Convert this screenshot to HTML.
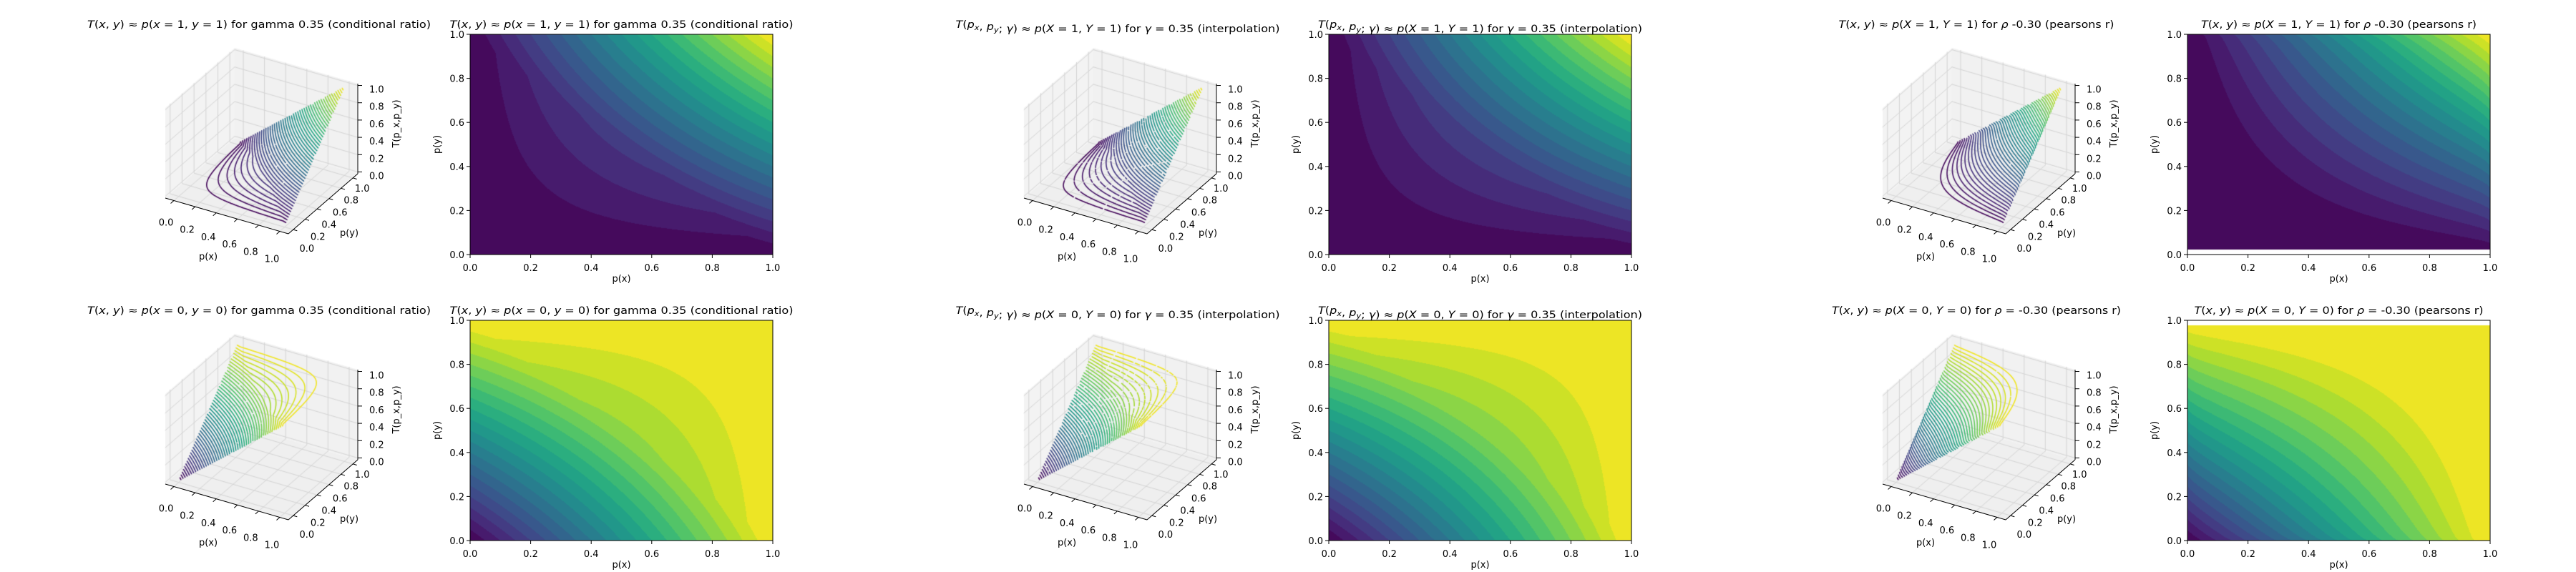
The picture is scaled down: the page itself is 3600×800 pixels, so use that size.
<!DOCTYPE html>
<html><head><meta charset="utf-8">
<style>
body{margin:0;background:#fff}
#wrap{position:relative;width:3600px;height:800px;overflow:hidden;background:#fff}
canvas,svg{position:absolute;left:0;top:0}
text{font-family:"DejaVu Sans","Liberation Sans",sans-serif;fill:#000}
</style></head>
<body>
<div id="wrap">
<canvas id="cv" width="3600" height="800"></canvas>
<svg id="ov" width="3600" height="800" xmlns="http://www.w3.org/2000/svg"></svg>
</div>
<script>
// ---- data ----
const tickValues=[0,0.2,0.4,0.6,0.8,1.0];
const tickLabels=["0.0","0.2","0.4","0.6","0.8","1.0"];
const mixWeights=[0.35,0.25,0];
const rhoValues=[0,0,-0.30];
const blankFractions=[0,0,0.022];
const fillLevels=[0,0.05,0.1,0.15,0.2,0.25,0.3,0.35,0.4,0.45,0.5,0.55,0.6,0.65,0.7,0.75,0.8,0.85,0.9,0.95,1.0];
const lineLevels=[0.02,0.04,0.06,0.08,0.1,0.12,0.14,0.16,0.18,0.2,0.22,0.24,0.26,0.28,0.3,0.32,0.34,0.36,0.38,0.4,0.42,0.44,0.46,0.48,0.5,0.52,0.54,0.56,0.58,0.6,0.62,0.64,0.66,0.68,0.7,0.72,0.74,0.76,0.78,0.8,0.82,0.84,0.86,0.88,0.9,0.92,0.94,0.96,0.98];
const titlesTop=["{T}({x}, {y}) ≈ {p}({x} = 1, {y} = 1) for gamma 0.35 (conditional ratio)",
 "{T}({p}_{x}, {p}_{y}; {γ}) ≈ {p}({X} = 1, {Y} = 1) for {γ} =  0.35 (interpolation)",
 "{T}({x}, {y}) ≈ {p}({X} = 1, {Y} = 1) for {ρ} -0.30 (pearsons r)"];
const titlesBot=["{T}({x}, {y}) ≈ {p}({x} = 0, {y} = 0) for gamma 0.35 (conditional ratio)",
 "{T}({p}_{x}, {p}_{y}; {γ}) ≈ {p}({X} = 0, {Y} = 0) for {γ} =  0.35 (interpolation)",
 "{T}({x}, {y}) ≈ {p}({X} = 0, {Y} = 0) for {ρ} =  -0.30 (pearsons r)"];
const titleWidthsTop=[480,453,385];
const titleWidthsBot=[480,453,404];

// ---- helpers ----
const VIR=[[68,1,84],[72,36,117],[65,68,135],[53,95,141],[42,120,142],[33,145,140],[34,168,132],[68,191,112],[122,209,81],[189,223,38],[253,231,37]];
function viridis(t){t=Math.max(0,Math.min(1,t));const s=t*10,i=Math.min(9,Math.floor(s)),f=s-i;const a=VIR[i],b=VIR[i+1];return [0,1,2].map(k=>Math.round(a[k]+(b[k]-a[k])*f));}
function fTop(g,x,y){
  if(g<2){const w=mixWeights[g];return (1-w)*x*y+w*Math.max(0,x+y-1);}
  return Math.max(0,x*y+rhoValues[g]*Math.sqrt(Math.max(0,x*(1-x)*y*(1-y))));
}
function fVal(g,r,x,y){return r===0?fTop(g,x,y):1-fTop(g,1-x,1-y);}
const SVGNS="http://www.w3.org/2000/svg";
const ov=document.getElementById('ov');
function mk(tag,attrs,parent){const e=document.createElementNS(SVGNS,tag);for(const k in attrs)e.setAttribute(k,attrs[k]);(parent||ov).appendChild(e);return e;}
function richText(el,src){
  let html="";let i=0;
  while(i<src.length){
    if(src[i]==='_'&&src[i+1]==='{'){const j=src.indexOf('}',i);html+='<tspan font-style="italic" font-size="10" dy="3">'+src.slice(i+2,j)+'</tspan><tspan dy="-3"></tspan>';i=j+1;}
    else if(src[i]==='{'){const j=src.indexOf('}',i);html+='<tspan font-style="italic">'+src.slice(i+1,j)+'</tspan>';i=j+1;}
    else{html+=src[i]==='&'?'&amp;':src[i];i++;}
  }
  el.innerHTML=html;
}
const cv=document.getElementById('cv');const ctx=cv.getContext('2d');

function P(u,v,w,dx,dy){return [dx+231+u*172+v*97, dy+277+u*50-v*84-w*126];}
function du(t){return 0.07+0.86*t;}
function dw(t){return 0.02+0.96*t;}

function draw3D(g,r){
  const dx=1200*g,dy=400*r;
  const G=mk('g',{});
  
  
  const poly=(pts,fill)=>{ctx.beginPath();pts.forEach((p,i)=>i?ctx.lineTo(p[0],p[1]):ctx.moveTo(p[0],p[1]));ctx.closePath();ctx.fillStyle=fill;ctx.fill();};
  poly([P(0,0,0,dx,dy),P(1,0,0,dx,dy),P(1,1,0,dx,dy),P(0,1,0,dx,dy)],'#efefef');
  poly([P(0,0,0,dx,dy),P(0,1,0,dx,dy),P(0,1,1,dx,dy),P(0,0,1,dx,dy)],'#f3f3f3');
  poly([P(0,1,0,dx,dy),P(1,1,0,dx,dy),P(1,1,1,dx,dy),P(0,1,1,dx,dy)],'#f1f1f1');
  ctx.strokeStyle='#d4d4d4';ctx.lineWidth=1;
  const ln=(a,b)=>{ctx.beginPath();ctx.moveTo(a[0],a[1]);ctx.lineTo(b[0],b[1]);ctx.stroke();};
  tickValues.forEach(t=>{
    const u=du(t),w=dw(t);
    ln(P(u,0,0,dx,dy),P(u,1,0,dx,dy));ln(P(0,u,0,dx,dy),P(1,u,0,dx,dy));
    ln(P(0,u,0,dx,dy),P(0,u,1,dx,dy));ln(P(0,0,w,dx,dy),P(0,1,w,dx,dy));
    ln(P(u,1,0,dx,dy),P(u,1,1,dx,dy));ln(P(0,1,w,dx,dy),P(1,1,w,dx,dy));
  });
  const N=90;const Z=[];
  for(let j=0;j<=N;j++){Z.push([]);for(let i=0;i<=N;i++)Z[j].push(fVal(g,r,i/N,j/N));}
  ctx.lineWidth=1.6;ctx.lineCap='round';
  lineLevels.forEach(L=>{
    const c=viridis(L);ctx.strokeStyle='rgb('+c.join(',')+')';ctx.beginPath();
    const proj=(x,y)=>P(du(x),du(y),dw(L),dx,dy);
    for(let j=0;j<N;j++)for(let i=0;i<N;i++){
      const x0=i/N,x1=(i+1)/N,y0=j/N,y1=(j+1)/N;
      const a=Z[j][i],b=Z[j][i+1],c2=Z[j+1][i+1],d=Z[j+1][i];
      const pts=[];
      if((a-L)*(b-L)<0)pts.push([x0+(L-a)/(b-a)/N,y0]);
      if((b-L)*(c2-L)<0)pts.push([x1,y0+(L-b)/(c2-b)/N]);
      if((c2-L)*(d-L)<0)pts.push([x1-(L-c2)/(d-c2)/N,y1]);
      if((d-L)*(a-L)<0)pts.push([x0,y1-(L-d)/(a-d)/N]);
      for(let k=0;k+1<pts.length;k+=2){const p=proj(pts[k][0],pts[k][1]),q=proj(pts[k+1][0],pts[k+1][1]);ctx.moveTo(p[0],p[1]);ctx.lineTo(q[0],q[1]);}
    }
    ctx.stroke();
  });
  const line=(a,b,nm)=>{const e=mk('line',{x1:a[0],y1:a[1],x2:b[0],y2:b[1],stroke:'#000','stroke-width':1},G);};
  line(P(0,0,0,dx,dy),P(1,0,0,dx,dy),'x-axis-line');
  line(P(1,0,0,dx,dy),P(1,1,0,dx,dy),'y-axis-line');
  line(P(1,1,0,dx,dy),P(1,1,1,dx,dy),'z-axis-line');
  tickValues.forEach((t,k)=>{
    const u=du(t),w=dw(t);
    let p=P(u,0,0,dx,dy);line(p,[p[0]-4.5,p[1]+4],'x-tick');
    let tx=mk('text',{x:p[0]-11,y:p[1]+30+8*t+5,'font-size':13,'text-anchor':'middle'},G);tx.textContent=tickLabels[k];
    
    p=P(1,u,0,dx,dy);line(p,[p[0]+5.5,p[1]+1.6],'y-tick');
    tx=mk('text',{x:p[0]+19-6*t,y:p[1]+26-12*t+5,'font-size':13,'text-anchor':'middle'},G);tx.textContent=tickLabels[k];
    
    p=P(1,1,w,dx,dy);line(p,[p[0]+6,p[1]],'z-tick');
    tx=mk('text',{x:dx+516,y:p[1]+5+5,'font-size':13},G);tx.textContent=tickLabels[k];
    
  });
  let t=mk('text',{x:dx+291,y:dy+363,'font-size':13,'text-anchor':'middle'},G);t.textContent='p(x)';
  
  t=mk('text',{x:dx+488,y:dy+330,'font-size':13,'text-anchor':'middle'},G);t.textContent='p(y)';
  
  t=mk('text',{x:0,y:0,'font-size':13,'text-anchor':'middle',transform:'translate('+(dx+558)+','+(dy+173)+') rotate(-90)'},G);t.textContent='T(p_x,p_y)';
  
  t=mk('text',{x:dx+362,y:dy+39,'font-size':14,'text-anchor':'middle',textLength:(r?titleWidthsBot:titleWidthsTop)[g],lengthAdjust:'spacingAndGlyphs'},G);
  richText(t,(r?titlesBot:titlesTop)[g]);
  
}

function drawHeat(g,r){
  const dx=1200*g,dy=400*r;const L=657+dx,T=48+dy,W=423,H=308;
  const G=mk('g',{});
  
  
  const img=ctx.createImageData(W,H);const nb=fillLevels.length-1;
  const bf=blankFractions[g];
  for(let j=0;j<H;j++){const y=1-(j+0.5)/H;
    const blank=(r===0&&y<bf)||(r===1&&y>1-bf);
    for(let i=0;i<W;i++){const x=(i+0.5)/W;const o=(j*W+i)*4;
      if(blank){img.data[o]=255;img.data[o+1]=255;img.data[o+2]=255;img.data[o+3]=255;continue;}
      const v=fVal(g,r,x,y);let k=0;while(k<nb-1&&v>=fillLevels[k+1])k++;
      const c=viridis((k+0.5)/nb);img.data[o]=c[0];img.data[o+1]=c[1];img.data[o+2]=c[2];img.data[o+3]=255;}}
  ctx.putImageData(img,L,T);
  const fr=mk('rect',{x:L,y:T,width:W,height:H,fill:'none',stroke:'#000','stroke-width':1},G);
  
  tickValues.forEach((t,k)=>{
    const px=L+t*W,py=T+H-t*H;
    let e=mk('line',{x1:px,y1:T+H,x2:px,y2:T+H+5,stroke:'#000'},G);
    
    e=mk('text',{x:px,y:T+H+23,'font-size':13,'text-anchor':'middle'},G);e.textContent=tickLabels[k];
    
    e=mk('line',{x1:L-5,y1:py,x2:L,y2:py,stroke:'#000'},G);
    
    e=mk('text',{x:L-8,y:py+5,'font-size':13,'text-anchor':'end'},G);e.textContent=tickLabels[k];
    
  });
  let t=mk('text',{x:L+W/2,y:T+H+38,'font-size':13,'text-anchor':'middle'},G);t.textContent='p(x)';
  
  t=mk('text',{x:0,y:0,'font-size':13,'text-anchor':'middle',transform:'translate('+(L-42)+','+(T+H/2)+') rotate(-90)'},G);t.textContent='p(y)';
  
  t=mk('text',{x:L+W/2,y:dy+39,'font-size':14,'text-anchor':'middle',textLength:(r?titleWidthsBot:titleWidthsTop)[g],lengthAdjust:'spacingAndGlyphs'},G);
  richText(t,(r?titlesBot:titlesTop)[g]);
  
}
for(let g=0;g<3;g++)for(let r=0;r<2;r++){draw3D(g,r);drawHeat(g,r);}
</script>
</body></html>
